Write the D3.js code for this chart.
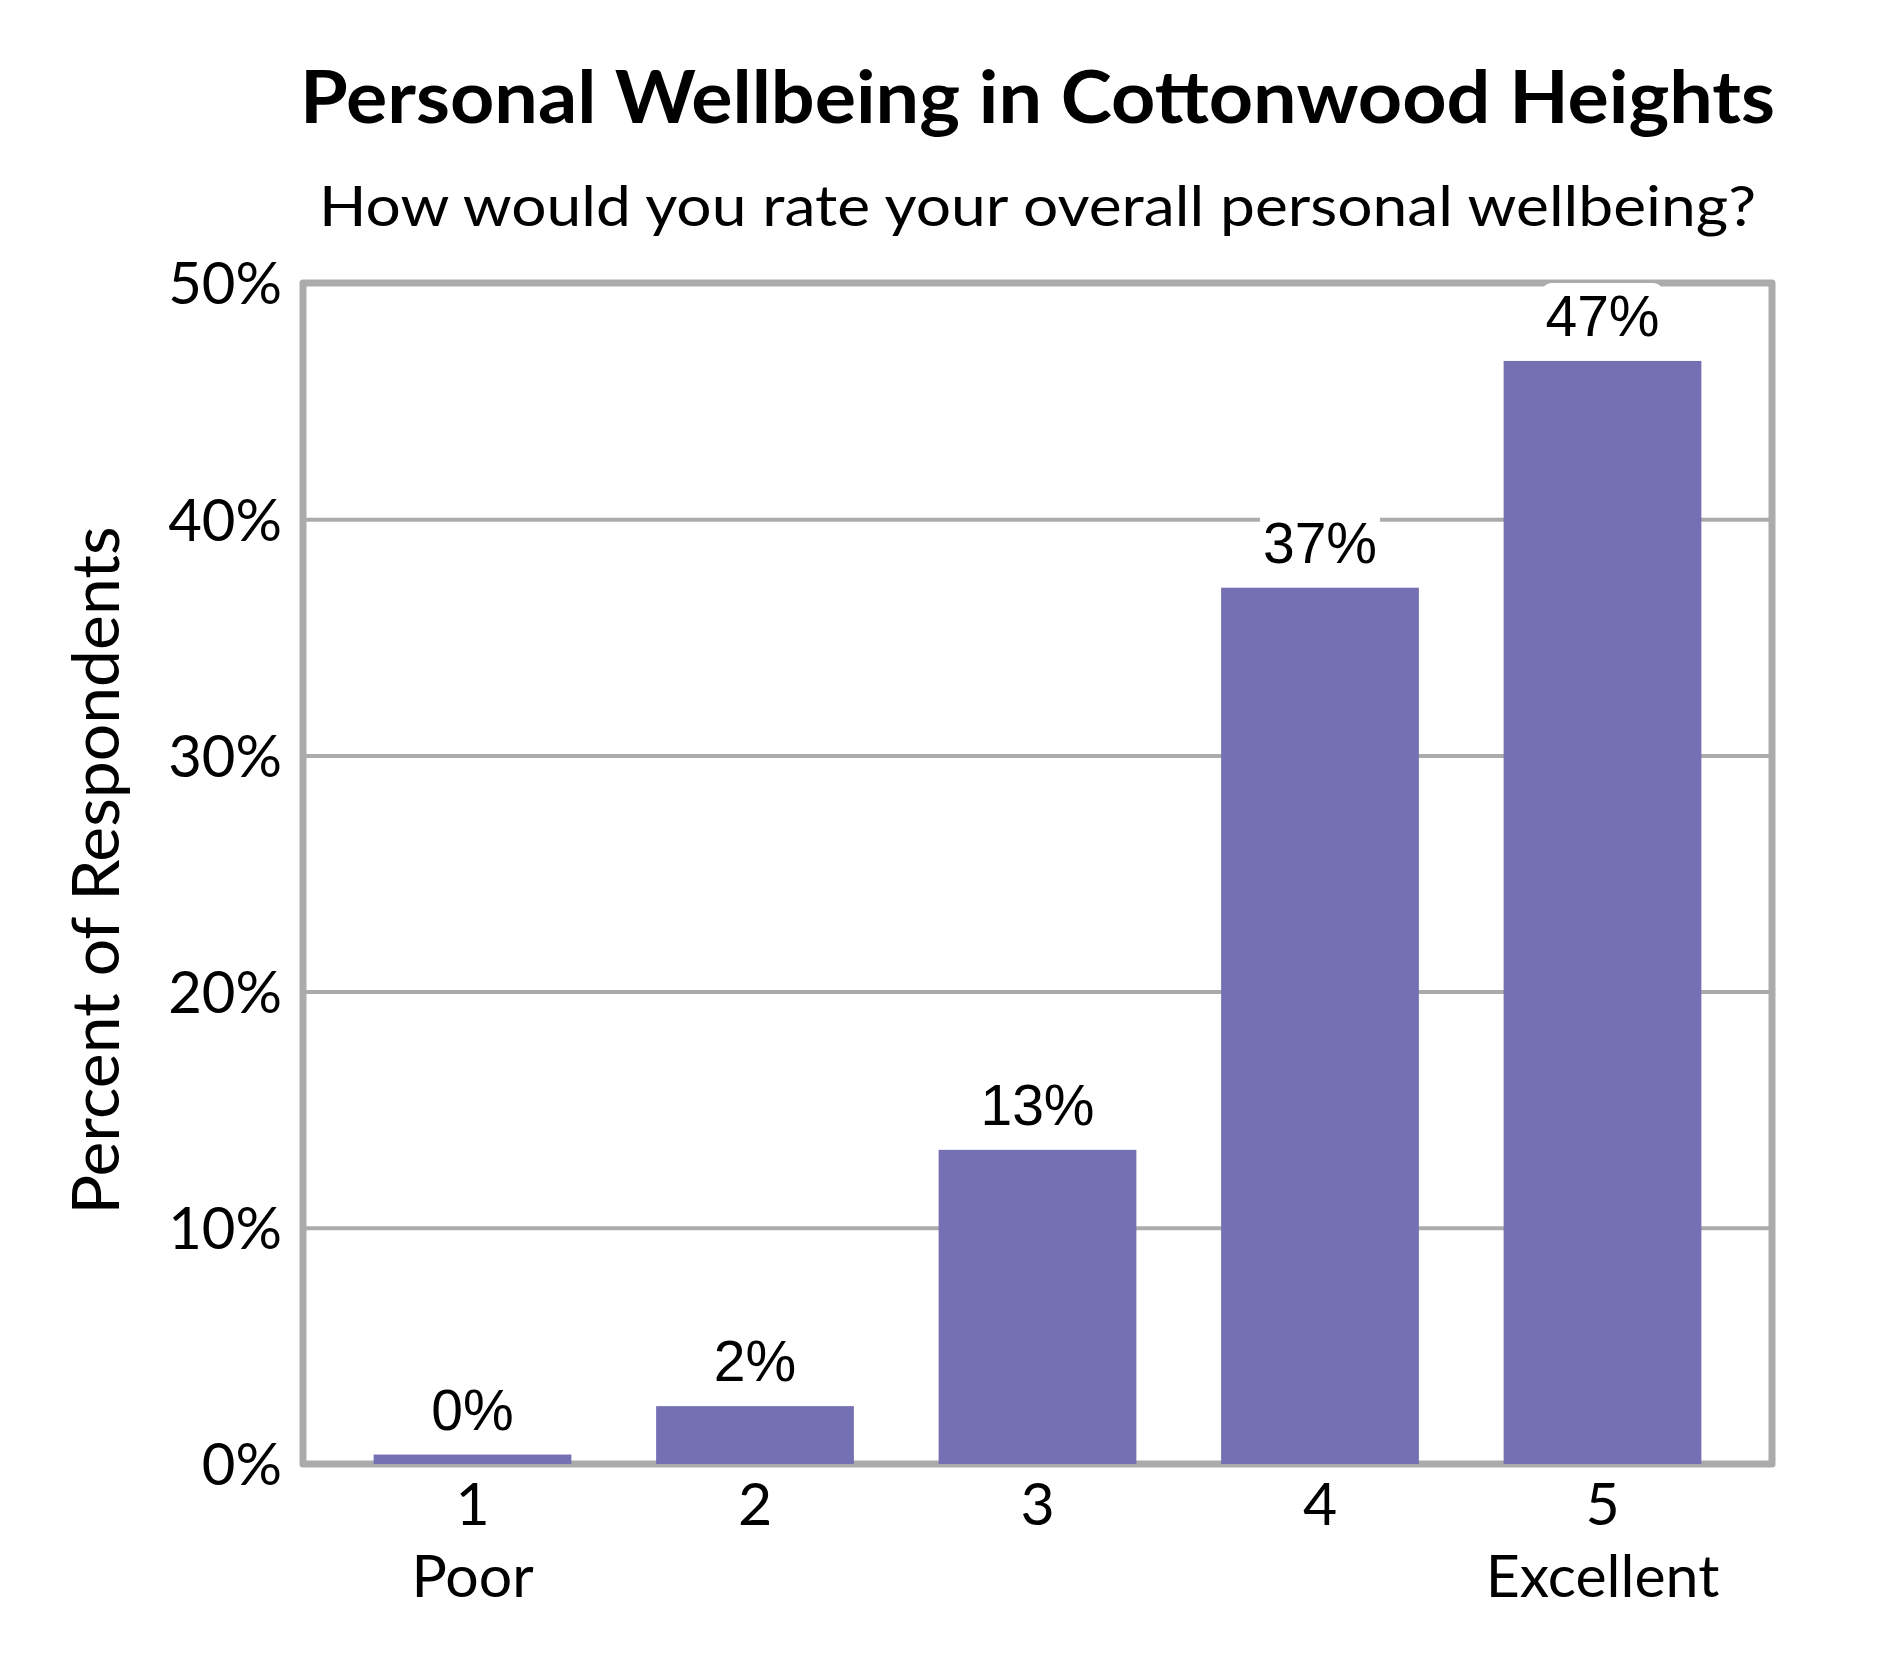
<!DOCTYPE html>
<html>
<head>
<meta charset="utf-8">
<script src="https://cdn.jsdelivr.net/npm/d3@7"></script>
<style>
  body { margin: 0; background: #fff; }
</style>
</head>
<body>
<div id="chart"></div>
<script>
// values
const categories = ["1", "2", "3", "4", "5"];
const anchorLabels = ["Poor", "", "", "", "Excellent"];
const percents = [0.4, 2.45, 13.3, 37.1, 46.7];
const yTicks = [0, 10, 20, 30, 40, 50];
const gridTicks = [10, 20, 30, 40];

const title = "Personal Wellbeing in Cottonwood Heights";
const subtitle = "How would you rate your overall personal wellbeing?";
const yTitle = "Percent of Respondents";

const width = 1890, height = 1680;
const plotLeft = 303, plotRight = 1772, plotTop = 283, plotBottom = 1464;
const gray = "#ababab";
const barColor = "#7570b3";
const textFont = "Lato, 'Open Sans', sans-serif";
const labelFont = "'Liberation Sans', Arial, sans-serif";

const svg = d3.select("#chart").append("svg")
    .attr("width", width)
    .attr("height", height);

const x = d3.scaleBand()
    .domain(categories)
    .range([plotLeft, plotRight])
    .paddingInner(0.3)
    .paddingOuter(0.25);

const y = d3.scaleLinear()
    .domain([0, 50])
    .range([plotBottom, plotTop]);

const cx = (plotLeft + plotRight) / 2;

// title + subtitle
svg.append("text")
    .attr("x", cx).attr("y", 123)
    .attr("text-anchor", "middle")
    .attr("font-family", textFont)
    .attr("font-weight", "bold")
    .attr("font-size", 72)
    .attr("textLength", 1475)
    .attr("lengthAdjust", "spacingAndGlyphs")
    .text(title);

svg.append("text")
    .attr("x", cx).attr("y", 226)
    .attr("text-anchor", "middle")
    .attr("font-family", textFont)
    .attr("font-size", 57)
    .attr("textLength", 1437)
    .attr("lengthAdjust", "spacingAndGlyphs")
    .text(subtitle);

// gridlines
const grid = svg.append("g")
    .attr("transform", `translate(${plotLeft},0)`)
    .call(d3.axisLeft(y).tickValues(gridTicks).tickSize(-(plotRight - plotLeft)).tickFormat(""));
grid.select(".domain").remove();
grid.selectAll("line").attr("stroke", gray).attr("stroke-width", 4);

// frame
svg.append("rect")
    .attr("x", plotLeft).attr("y", plotTop)
    .attr("width", plotRight - plotLeft).attr("height", plotBottom - plotTop)
    .attr("fill", "none")
    .attr("stroke", gray)
    .attr("stroke-width", 7)
    .attr("stroke-linejoin", "round");

// y tick labels
const yAxis = svg.append("g")
    .attr("transform", "translate(282,0)")
    .call(d3.axisLeft(y).tickValues(yTicks).tickSize(0).tickPadding(0).tickFormat(d => d + "%"));
yAxis.select(".domain").remove();
yAxis.selectAll("text")
    .attr("dy", "0.36em")
    .attr("font-family", textFont)
    .attr("font-size", 58)
    .attr("fill", "#000");

// y axis title
svg.append("text")
    .attr("transform", `translate(119,${(plotTop + plotBottom) / 2 - 3}) rotate(-90)`)
    .attr("text-anchor", "middle")
    .attr("font-family", textFont)
    .attr("font-size", 65)
    .attr("textLength", 688)
    .attr("lengthAdjust", "spacingAndGlyphs")
    .text(yTitle);

// x tick labels
const xAxis = svg.append("g")
    .attr("transform", `translate(0,${plotBottom})`)
    .call(d3.axisBottom(x).tickSize(0).tickPadding(0));
xAxis.select(".domain").remove();
xAxis.selectAll("text")
    .attr("y", 61)
    .attr("dy", null)
    .attr("font-family", textFont)
    .attr("font-size", 59)
    .attr("fill", "#000");

svg.append("g")
    .selectAll("text")
    .data(categories)
    .join("text")
    .attr("x", d => x(d) + x.bandwidth() / 2)
    .attr("y", 1597)
    .attr("text-anchor", "middle")
    .attr("font-family", textFont)
    .attr("font-size", 59)
    .text((d, i) => anchorLabels[i]);

// bars
svg.append("g")
    .selectAll("rect")
    .data(percents)
    .join("rect")
    .attr("x", (d, i) => x(categories[i]))
    .attr("y", d => y(d))
    .attr("width", x.bandwidth())
    .attr("height", d => y(0) - y(d))
    .attr("fill", barColor);

// data labels with white rounded boxes
const fmt = d => d3.format(".0f")(d) + "%";
const labels = svg.append("g")
    .selectAll("g")
    .data(percents)
    .join("g");

const labelText = labels.append("text")
    .attr("x", (d, i) => x(categories[i]) + x.bandwidth() / 2)
    .attr("y", d => y(d) - 25)
    .attr("text-anchor", "middle")
    .attr("font-family", labelFont)
    .attr("font-size", 57)
    .attr("fill", "#000")
    .text(fmt);

labelText.each(function() {
    const b = this.getBBox();
    d3.select(this.parentNode).insert("rect", "text")
        .attr("x", b.x - 3)
        .attr("y", b.y - 1)
        .attr("width", b.width + 6)
        .attr("height", b.height + 2)
        .attr("rx", 9)
        .attr("fill", "#fff");
});
</script>
</body>
</html>
